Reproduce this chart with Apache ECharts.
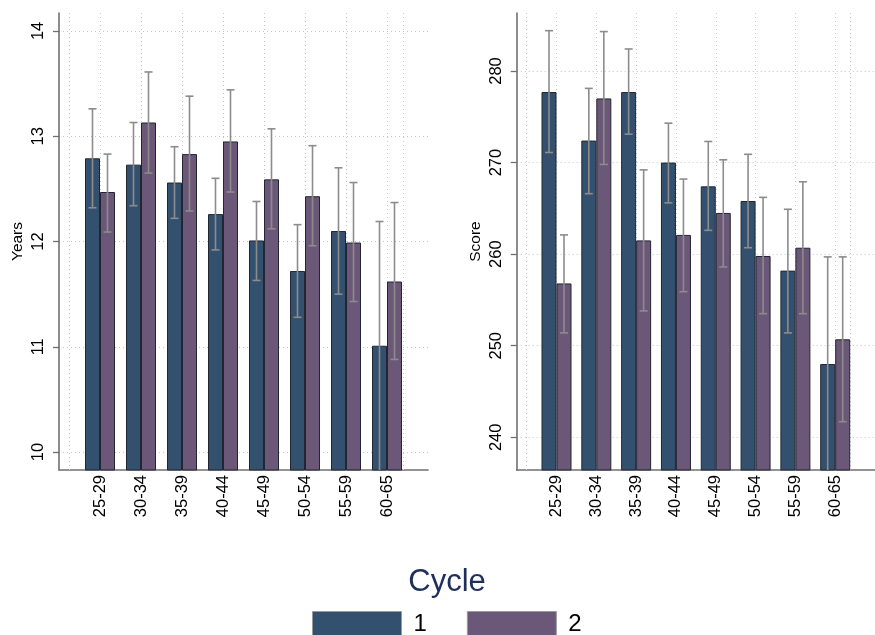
<!DOCTYPE html>
<html>
<head>
<meta charset="utf-8">
<script src="https://cdn.jsdelivr.net/npm/echarts@6/dist/echarts.min.js"></script>
<style>
  html, body { margin: 0; padding: 0; background: #fff; }
  #chart { width: 875px; height: 635px; }
</style>
</head>
<body>
<div id="chart"></div>
<script>
// Age groups shown along both panels
const categories = ['25-29', '30-34', '35-39', '40-44', '45-49', '50-54', '55-59', '60-65'];

// Left panel: years of schooling, mean with 95% interval
const yearsCycle1   = [12.79, 12.73, 12.56, 12.26, 12.01, 11.72, 12.10, 11.01];
const yearsCycle1Lo = [12.32, 12.34, 12.22, 11.92, 11.63, 11.28, 11.50, 9.83];
const yearsCycle1Hi = [13.26, 13.13, 12.90, 12.60, 12.38, 12.16, 12.70, 12.19];
const yearsCycle2   = [12.47, 13.13, 12.83, 12.95, 12.59, 12.43, 11.99, 11.62];
const yearsCycle2Lo = [12.09, 12.65, 12.29, 12.47, 12.12, 11.96, 11.43, 10.88];
const yearsCycle2Hi = [12.83, 13.61, 13.38, 13.44, 13.07, 12.91, 12.56, 12.37];

// Right panel: test score, mean with 95% interval
const scoreCycle1   = [277.7, 272.4, 277.7, 270.0, 267.4, 265.8, 258.2, 248.0];
const scoreCycle1Lo = [271.1, 266.6, 273.1, 265.6, 262.6, 260.7, 251.4, 236.4];
const scoreCycle1Hi = [284.4, 278.1, 282.4, 274.3, 272.3, 270.9, 264.9, 259.7];
const scoreCycle2   = [256.8, 277.0, 261.5, 262.1, 264.5, 259.8, 260.7, 250.7];
const scoreCycle2Lo = [251.4, 269.8, 253.8, 255.9, 258.6, 253.5, 253.5, 241.7];
const scoreCycle2Hi = [262.1, 284.3, 269.2, 268.2, 270.3, 266.2, 267.9, 259.7];

// Tick labels on the value axes
const yearsTicks = [10, 11, 12, 13, 14];
const scoreTicks = [240, 250, 260, 270, 280];

const cycleNames = ['1', '2'];

const FONT = 'Liberation Sans, Arial, Helvetica, sans-serif';
const COLOR_C1 = '#34506f';
const COLOR_C2 = '#6b5878';
const BAR_W = 15;
const AXIS_GRAY = '#707070';
const GRID_GRAY = '#c4c4c4';
const ERR_GRAY = '#8c8c8c';

const chart = echarts.init(document.getElementById('chart'), null, { renderer: 'canvas' });

function xAxisFor(gridIndex) {
  return {
    type: 'value', gridIndex, min: -1, max: 8, interval: 1,
    axisLine: { show: true, onZero: false, lineStyle: { color: AXIS_GRAY, width: 1.6 } },
    axisTick: { show: false },
    axisLabel: {
      rotate: 90, margin: 5, fontSize: 16.5, fontFamily: FONT, color: '#000',
      formatter: v => (categories[v] !== undefined ? categories[v] : '')
    },
    splitLine: {
      show: true, showMinLine: false, showMaxLine: false,
      lineStyle: { color: GRID_GRAY, type: [1, 3], width: 1 }
    }
  };
}

function yAxisFor(gridIndex, name, range, ticks) {
  return {
    type: 'value', gridIndex, min: range[0], max: range[1],
    name, nameLocation: 'middle', nameRotate: 90, nameGap: 33,
    nameTextStyle: { fontSize: 15.5, fontFamily: FONT, color: '#000' },
    axisLine: { show: true, onZero: false, lineStyle: { color: AXIS_GRAY, width: 1.6 } },
    axisTick: { show: true, length: 6, customValues: ticks, lineStyle: { color: AXIS_GRAY, width: 1.3 } },
    axisLabel: { rotate: 90, margin: 12, fontSize: 16.5, fontFamily: FONT, color: '#000', customValues: ticks },
    splitLine: { show: true, lineStyle: { color: GRID_GRAY, type: [1, 3], width: 1 } }
  };
}

function barSeries(name, axisIndex, values, color, withEdges) {
  const s = {
    name, type: 'bar', xAxisIndex: axisIndex, yAxisIndex: axisIndex,
    barWidth: BAR_W, barGap: '0%',
    itemStyle: { color, borderColor: '#222630', borderWidth: 1 },
    data: values.map((v, i) => [i, v]),
    z: 2
  };
  if (withEdges) {
    // faint dotted guides at the outer edges of the plot area
    s.markLine = {
      silent: true, symbol: 'none', label: { show: false },
      lineStyle: { color: GRID_GRAY, type: [1, 3], width: 1 },
      data: [{ xAxis: -0.57 }, { xAxis: 7.57 }],
      z: 1
    };
  }
  return s;
}

function errorSeries(name, axisIndex, lo, hi, side) {
  return {
    name, type: 'custom', xAxisIndex: axisIndex, yAxisIndex: axisIndex,
    z: 4, silent: true,
    data: lo.map((l, i) => [i, l, hi[i]]),
    renderItem(params, api) {
      const x = api.value(0);
      const pLo = api.coord([x, api.value(1)]);
      const pHi = api.coord([x, api.value(2)]);
      const cs = params.coordSys;
      const bottom = cs.y + cs.height;
      const cx = pLo[0] + side * BAR_W / 2;
      const yLo = Math.min(pLo[1], bottom);
      const style = { stroke: ERR_GRAY, lineWidth: 1.6 };
      const cap = 4;
      const children = [
        { type: 'line', shape: { x1: cx, y1: pHi[1], x2: cx, y2: yLo }, style },
        { type: 'line', shape: { x1: cx - cap, y1: pHi[1], x2: cx + cap, y2: pHi[1] }, style }
      ];
      if (pLo[1] < bottom - 1) {
        children.push({ type: 'line', shape: { x1: cx - cap, y1: pLo[1], x2: cx + cap, y2: pLo[1] }, style });
      }
      return { type: 'group', children };
    }
  };
}

const option = {
  backgroundColor: '#fff',
  animation: false,
  title: {
    text: 'Cycle', left: 447, top: 567, textAlign: 'center', padding: 0,
    textStyle: { fontSize: 31, fontWeight: 'normal', fontFamily: FONT, color: '#1e2f5c' }
  },
  legend: {
    data: cycleNames, left: 312, top: 611, orient: 'horizontal', padding: 0,
    itemWidth: 89, itemHeight: 26, itemGap: 40, icon: 'rect',
    textStyle: { fontSize: 24, fontFamily: FONT, color: '#000', padding: [0, 0, 0, 7] },
    itemStyle: { borderColor: '#9a9a9a', borderWidth: 1 }
  },
  grid: [
    { left: 59, top: 13, width: 369, height: 457 },
    { left: 516.7, top: 13, width: 370, height: 457 }
  ],
  xAxis: [xAxisFor(0), xAxisFor(1)],
  yAxis: [
    yAxisFor(0, 'Years', [9.83, 14.17], yearsTicks),
    yAxisFor(1, 'Score', [236.43, 286.33], scoreTicks)
  ],
  series: [
    barSeries(cycleNames[0], 0, yearsCycle1, COLOR_C1, true),
    barSeries(cycleNames[1], 0, yearsCycle2, COLOR_C2, false),
    errorSeries('err-y1', 0, yearsCycle1Lo, yearsCycle1Hi, -1),
    errorSeries('err-y2', 0, yearsCycle2Lo, yearsCycle2Hi, 1),
    barSeries(cycleNames[0], 1, scoreCycle1, COLOR_C1, true),
    barSeries(cycleNames[1], 1, scoreCycle2, COLOR_C2, false),
    errorSeries('err-s1', 1, scoreCycle1Lo, scoreCycle1Hi, -1),
    errorSeries('err-s2', 1, scoreCycle2Lo, scoreCycle2Hi, 1)
  ]
};

chart.setOption(option);
</script>
</body>
</html>
